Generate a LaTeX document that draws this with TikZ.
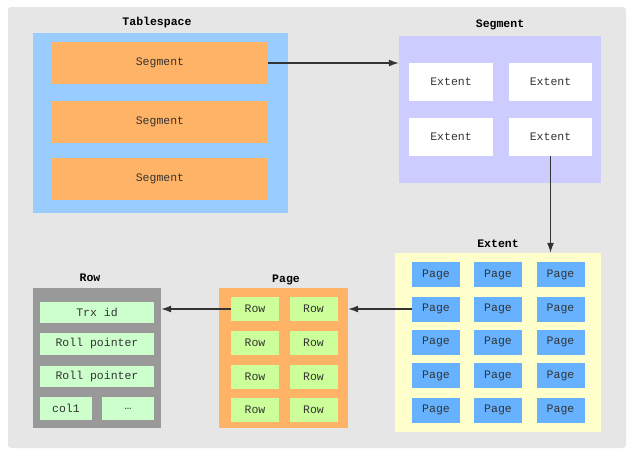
\documentclass[tikz,border=0pt]{standalone}
\usepackage{fontspec}
\setmonofont{Liberation Mono}
\usetikzlibrary{arrows.meta}
\definecolor{bg}{HTML}{E6E6E6}
\definecolor{tsblue}{HTML}{99CCFF}
\definecolor{segor}{HTML}{FFB366}
\definecolor{lav}{HTML}{CCCCFF}
\definecolor{yel}{HTML}{FFFFCC}
\definecolor{pgblue}{HTML}{66B2FF}
\definecolor{rowgreen}{HTML}{CCFF99}
\definecolor{mint}{HTML}{CCFFCC}
\definecolor{rowgray}{HTML}{999999}
\definecolor{txt}{HTML}{333333}
\begin{document}
\begin{tikzpicture}[x=1pt,y=-1pt,
  every node/.style={font=\ttfamily\fontsize{11.5}{13}\selectfont, inner sep=0pt, text=txt},
  ttl/.style={font=\ttfamily\bfseries\fontsize{11.5}{13}\selectfont, text=black},
  conn/.style={draw=txt, line width=1.3pt, -{Latex[length=10pt,width=7pt]}}]
\useasboundingbox[fill=white] (0,0) rectangle (640,459);
\fill[bg, rounded corners=3pt] (8,7) rectangle (626,448);
% Tablespace
\node[ttl] (tTs) at (157,23) {Tablespace};
\node[fill=tsblue, minimum width=255pt, minimum height=180pt] (ts) at (160.5,123) {};
\node[fill=segor, minimum width=216pt, minimum height=42pt] (seg1) at (160,63) {Segment};
\node[fill=segor, minimum width=216pt, minimum height=42pt] (seg2) at (160,122) {Segment};
\node[fill=segor, minimum width=216pt, minimum height=42pt] (seg3) at (160,178.5) {Segment};
% Segment
\node[ttl] (tSeg) at (500,25) {Segment};
\node[fill=lav, minimum width=202pt, minimum height=147pt] (segbox) at (500,109.5) {};
\node[fill=white, minimum width=84pt, minimum height=38pt] (e11) at (451,82) {Extent};
\node[fill=white, minimum width=83pt, minimum height=38pt] (e12) at (550.5,82) {Extent};
\node[fill=white, minimum width=84pt, minimum height=38pt] (e21) at (451,137) {Extent};
\node[fill=white, minimum width=83pt, minimum height=38pt] (e22) at (550.5,137) {Extent};
% Extent
\node[ttl] (tExt) at (498,244) {Extent};
\node[fill=yel, minimum width=206pt, minimum height=179pt] (extbox) at (498,342.5) {};
\foreach \r/\y in {1/274.5,2/309,3/342,4/375.5,5/410}{
  \foreach \c/\x in {1/436,2/498,3/560.5}{
    \node[fill=pgblue, minimum width=48pt, minimum height=25pt] (p\r\c) at (\x,\y) {Page};
  }
}
% Page
\node[ttl] (tPage) at (286,280) {Page};
\node[fill=segor, minimum width=129pt, minimum height=140pt] (pagebox) at (283.5,358) {};
\foreach \r/\y in {1/309,2/343,3/376.5,4/409.5}{
  \foreach \c/\x in {1/255,2/313.5}{
    \node[fill=rowgreen, minimum width=48pt, minimum height=24pt] (r\r\c) at (\x,\y) {Row};
  }
}
% Row
\node[ttl] (tRow) at (90,278) {Row};
\node[fill=rowgray, minimum width=128pt, minimum height=140pt] (rowbox) at (97,358) {};
\node[fill=mint, minimum width=114pt, minimum height=21pt] (f1) at (97,312.5) {Trx id};
\node[fill=mint, minimum width=114pt, minimum height=22pt] (f2) at (97,344) {Roll pointer};
\node[fill=mint, minimum width=114pt, minimum height=21pt] (f3) at (97,376.5) {Roll pointer};
\node[fill=mint, minimum width=52pt, minimum height=23pt] (f4) at (66,408.5) {col1};
\node[fill=mint, minimum width=52pt, minimum height=23pt] (f5) at (128,408.5) {…};
% connectors
\draw[conn] (seg1.east) -- (seg1.east -| segbox.west);
\draw[conn] (e22.south) -- (e22.south |- extbox.north);
\draw[conn] (p21.west) -- (p21.west -| pagebox.east);
\draw[conn] (r11.west) -- (r11.west -| rowbox.east);
\end{tikzpicture}
\end{document}
